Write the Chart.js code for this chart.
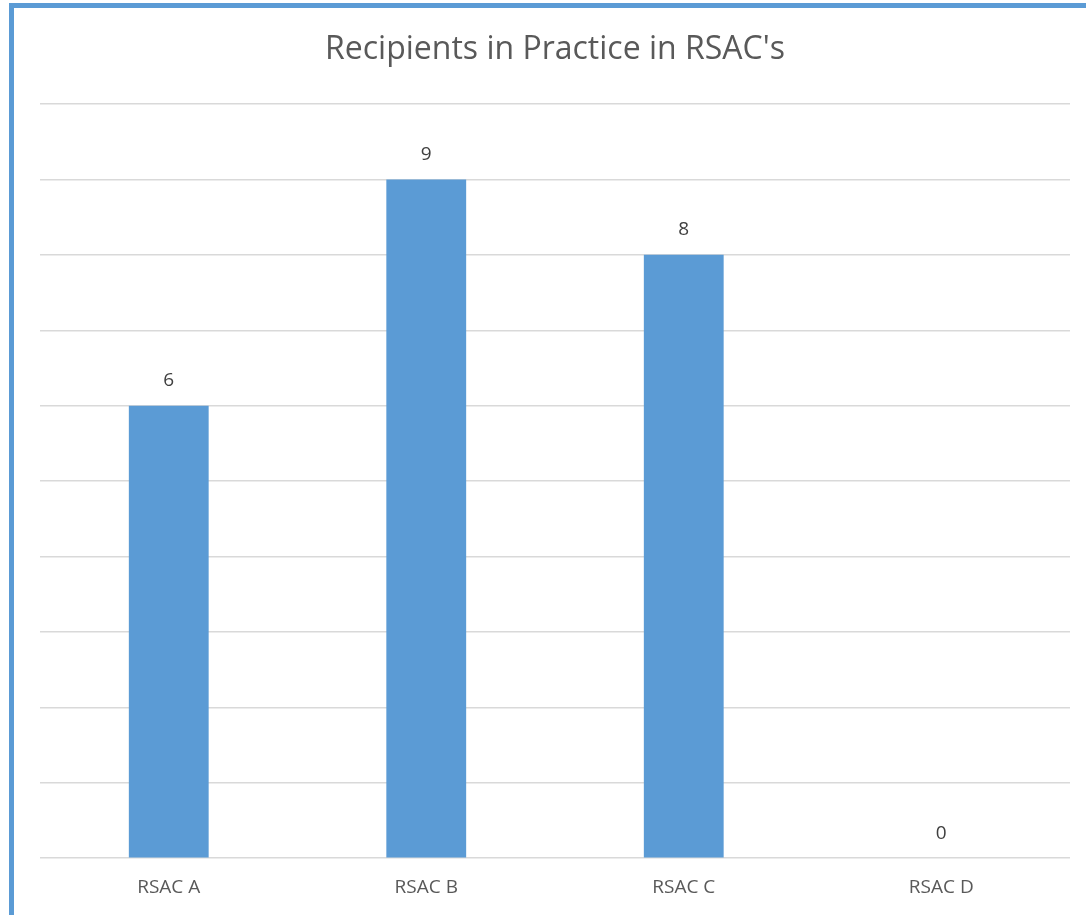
<!DOCTYPE html>
<html>
<head>
<meta charset="utf-8">
<script src="https://cdn.jsdelivr.net/npm/chart.js@4/dist/chart.umd.min.js"></script>
<style>
  html, body { margin: 0; padding: 0; background: #fff; }
  #wrap { position: relative; width: 1086px; height: 915px; overflow: hidden; }
  #frame { position: absolute; left: 9px; top: 3px; right: -10px; bottom: -10px;
           border-top: 5px solid #5b9bd5; border-left: 5px solid #5b9bd5; }
  canvas { position: absolute; left: 0; top: 0; }
</style>
</head>
<body>
<div id="wrap">
  <div id="frame"></div>
  <canvas id="c" width="1086" height="915"></canvas>
</div>
<script>
const categories = ["RSAC A", "RSAC B", "RSAC C", "RSAC D"];
const values = [6, 9, 8, 0];
const chartTitle = "Recipients in Practice in RSAC's";

const dataLabels = {
  id: 'dataLabels',
  afterDatasetsDraw(chart) {
    const ctx = chart.ctx;
    ctx.save();
    ctx.font = '19px "Open Sans", "Liberation Sans", sans-serif';
    ctx.fillStyle = '#404040';
    ctx.textAlign = 'center';
    ctx.textBaseline = 'middle';
    chart.getDatasetMeta(0).data.forEach((bar, i) => {
      ctx.fillText(String(values[i]), bar.x, bar.y - 25);
    });
    ctx.restore();
  }
};

new Chart(document.getElementById('c'), {
  type: 'bar',
  data: {
    labels: categories,
    datasets: [{
      data: values,
      backgroundColor: '#5b9bd5',
      borderWidth: 0,
      categoryPercentage: 1,
      barPercentage: 0.31
    }]
  },
  options: {
    responsive: false,
    animation: false,
    devicePixelRatio: 1,
    layout: { padding: { left: 40, right: 16, top: 0, bottom: -2 } },
    plugins: {
      legend: { display: false },
      tooltip: { enabled: false },
      title: {
        display: true,
        text: chartTitle,
        color: '#595959',
        font: { family: '"Open Sans", "Liberation Sans", sans-serif', size: 32, weight: 'normal' },
        padding: { top: 31, bottom: 34.6 }
      }
    },
    scales: {
      x: {
        grid: { display: false, drawTicks: false },
        border: { display: false },
        ticks: {
          color: '#595959',
          padding: 18,
          font: { family: '"Open Sans", "Liberation Sans", sans-serif', size: 19 }
        }
      },
      y: {
        min: 0, max: 10,
        ticks: { display: false, stepSize: 1 },
        grid: { color: '#d9d9d9', lineWidth: 1.5, drawTicks: false },
        border: { display: false }
      }
    }
  },
  plugins: [dataLabels]
});
</script>
</body>
</html>
